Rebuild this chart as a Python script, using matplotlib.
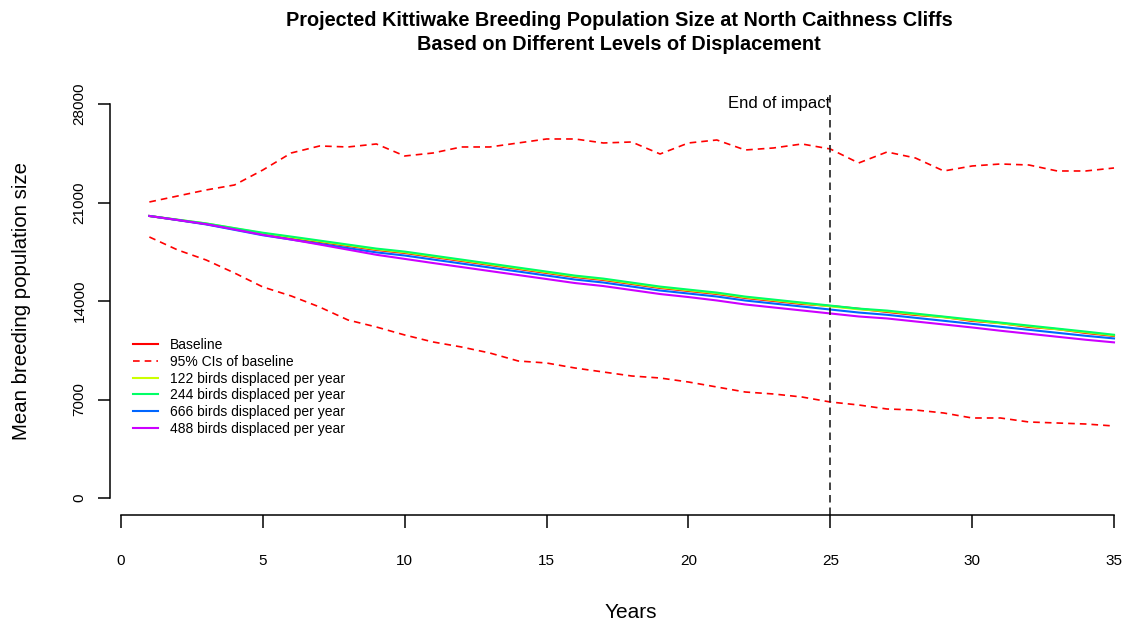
import numpy as np
import matplotlib.pyplot as plt

plt.rcParams['font.family'] = ['Liberation Sans', 'DejaVu Sans']

# values
years = list(range(1, 36))

baseline = [20042, 19757, 19473, 19118, 18762, 18478, 18194, 17910, 17625, 17412,
            17128, 16844, 16559, 16275, 15991, 15706, 15493, 15209, 14925, 14711,
            14498, 14214, 14001, 13788, 13650, 13450, 13219, 13006, 12860, 12579,
            12430, 12153, 12000, 11727, 11513]
ci_upper = [21037, 21463, 21890, 22245, 23311, 24519, 25017, 24946, 25159, 24306,
            24519, 24946, 24946, 25230, 25514, 25514, 25230, 25301, 24448, 25230,
            25443, 24732, 24875, 25159, 24803, 23808, 24590, 24164, 23240, 23595,
            23737, 23666, 23240, 23240, 23453]
ci_lower = [18549, 17625, 16915, 15991, 14996, 14356, 13574, 12650, 12153, 11584,
            11087, 10732, 10305, 9737, 9594, 9239, 8955, 8671, 8528, 8244,
            7889, 7533, 7391, 7178, 6823, 6610, 6325, 6254, 6041, 5686,
            5686, 5401, 5330, 5259, 5117]
disp_122 = [20042, 19772, 19508, 19168, 18812, 18528, 18244, 17960, 17675, 17462,
            17178, 16894, 16609, 16325, 16041, 15756, 15543, 15259, 14975, 14761,
            14548, 14264, 14051, 13838, 13624, 13411, 13269, 13056, 12843, 12629,
            12416, 12203, 11990, 11777, 11550]
disp_244 = [20042, 19777, 19513, 19178, 18852, 18578, 18294, 18010, 17725, 17512,
            17228, 16944, 16659, 16375, 16091, 15806, 15593, 15309, 15025, 14811,
            14598, 14314, 14101, 13888, 13674, 13461, 13319, 13106, 12893, 12679,
            12466, 12253, 12040, 11827, 11600]
disp_666 = [20042, 19747, 19443, 19058, 18672, 18368, 18064, 17760, 17455, 17232,
            16948, 16664, 16379, 16095, 15811, 15526, 15313, 15029, 14745, 14531,
            14318, 14034, 13821, 13608, 13394, 13181, 13019, 12806, 12593, 12379,
            12166, 11953, 11740, 11527, 11340]
disp_488 = [20042, 19757, 19463, 19088, 18702, 18368, 18014, 17650, 17285, 16992,
            16698, 16414, 16129, 15845, 15561, 15276, 15063, 14779, 14495, 14281,
            14038, 13754, 13541, 13328, 13114, 12901, 12759, 12546, 12333, 12119,
            11886, 11673, 11460, 11247, 11060]

series = [(disp_122, '#CCFF00', '122 birds displaced per year'),
          (disp_244, '#00FF66', '244 birds displaced per year'),
          (disp_666, '#0066FF', '666 birds displaced per year'),
          (disp_488, '#CC00FF', '488 birds displaced per year')]

W, H = 1129, 623
fig = plt.figure(figsize=(W / 100, H / 100), dpi=100)

# pixel layout of the R-style plot
px0, px35 = 121, 1114
py0, py28 = 498, 104
xs = (px35 - px0) / 35.0
ys = (py0 - py28) / 28000.0
left_px, right_px, bot_px, top_px = 110, 1125, 515, 90
ax = fig.add_axes([left_px / W, 1 - bot_px / H, (right_px - left_px) / W, (bot_px - top_px) / H])
ax.set_xlim((left_px - px0) / xs, 35 + (right_px - px35) / xs)
ax.set_ylim(-(bot_px - py0) / ys, 28000 + (py28 - top_px) / ys)

ax.plot(years, baseline, color='#FF0000', lw=1.5, label='Baseline')
ax.plot(years, ci_upper, color='#FF0000', lw=1.2, dashes=(4, 3), label='95% CIs of baseline')
ax.plot(years, ci_lower, color='#FF0000', lw=1.2, dashes=(4, 3))
for vals, col, lab in series:
    ax.plot(years, vals, color=col, lw=1.5, label=lab)

ax.axvline(25, color='#222222', lw=1.2, dashes=(4.5, 3))
ax.text(25, 28070, 'End of impact', ha='right', va='center', fontsize=12)

for s in ['top', 'right']:
    ax.spines[s].set_visible(False)
ax.spines['left'].set_bounds(0, 28000)
ax.spines['bottom'].set_bounds(0, 35)
ax.spines['left'].set_linewidth(1.1)
ax.spines['bottom'].set_linewidth(1.1)

ax.set_xticks(range(0, 36, 5))
ax.set_yticks([0, 7000, 14000, 21000, 28000])
ax.tick_params(axis='both', length=9, width=1.1, labelsize=11)
ax.tick_params(axis='x', pad=19)
ax.tick_params(axis='y', pad=8)
for lbl in ax.get_yticklabels():
    lbl.set_rotation(90)
    lbl.set_va('center')

fig.text(631 / W, 1 - 612 / H, 'Years', ha='center', va='center', fontsize=15)
fig.text(22 / W, 1 - 301 / H, 'Mean breeding population size', rotation=90,
         ha='center', va='center', fontsize=14.7)
fig.text(619 / W, 1 - 20 / H, 'Projected Kittiwake Breeding Population Size at North Caithness Cliffs',
         ha='center', va='center', fontsize=14.3, fontweight='bold')
fig.text(619 / W, 1 - 45 / H, 'Based on Different Levels of Displacement',
         ha='center', va='center', fontsize=14.3, fontweight='bold')

leg = ax.legend(loc='upper left', bbox_to_anchor=(133 / W, 1 - 338 / H),
                bbox_transform=fig.transFigure, frameon=False, fontsize=10,
                handlelength=1.8, handletextpad=0.86, labelspacing=0.2,
                borderpad=0, borderaxespad=0)

fig.savefig('out.png', dpi=100)
